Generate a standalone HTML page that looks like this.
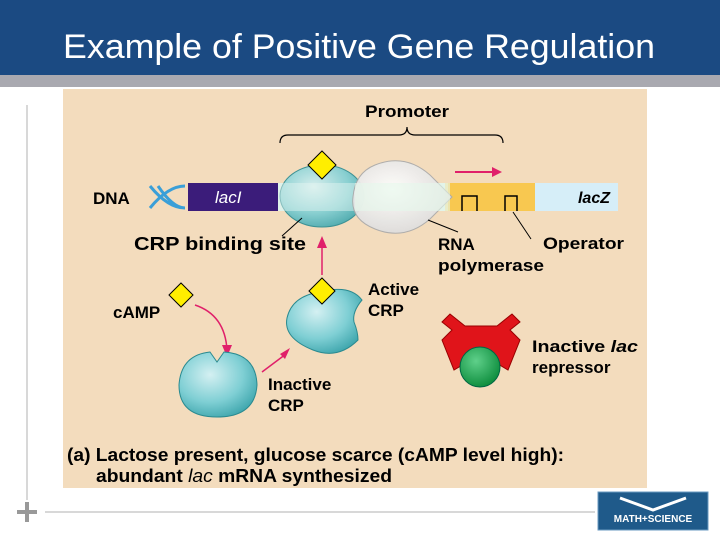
<!DOCTYPE html>
<html><head><meta charset="utf-8"><style>
body{margin:0;width:720px;height:540px;overflow:hidden;background:#fff;font-family:"Liberation Sans",sans-serif}
</style></head><body>
<svg width="720" height="540" xmlns="http://www.w3.org/2000/svg" font-family="Liberation Sans, sans-serif">
<defs>
<radialGradient id="cg" cx="40%" cy="35%" r="70%"><stop offset="0" stop-color="#d4f0f2"/><stop offset="0.6" stop-color="#7fcfd4"/><stop offset="1" stop-color="#3fa6ad"/></radialGradient>
<radialGradient id="gg" cx="40%" cy="35%" r="70%"><stop offset="0" stop-color="#5fd08a"/><stop offset="1" stop-color="#0a8a3a"/></radialGradient>
<radialGradient id="wg" cx="40%" cy="40%" r="70%"><stop offset="0" stop-color="#fff"/><stop offset="1" stop-color="#d8d8d8"/></radialGradient>
</defs>
<rect x="0" y="0" width="720" height="75" fill="#1b4a82"/>
<rect x="0" y="75" width="720" height="12" fill="#a9a9b0"/>
<text x="63" y="58" font-size="34" fill="#fff" textLength="592" lengthAdjust="spacingAndGlyphs">Example of Positive Gene Regulation</text>
<rect x="63" y="89" width="584" height="399" fill="#f3dcbd"/>
<line x1="27" y1="105" x2="27" y2="500" stroke="#ccc" stroke-width="1.5"/>
<line x1="45" y1="512" x2="595" y2="512" stroke="#ccc" stroke-width="1.5"/>
<path d="M17 512h20M27 502v20" stroke="#999" stroke-width="4"/>
<rect x="598" y="492" width="110" height="38" fill="#1f5a8a" stroke="#6a9ac0"/>
<text x="653" y="522" font-size="10" fill="#fff" text-anchor="middle" font-weight="bold">MATH+SCIENCE</text>
<path d="M620 498l33 12 33-12" stroke="#fff" stroke-width="3" fill="none"/>
<path d="M280 143 q0 -8 8 -8 h111 q8 0 8 -8 q0 8 8 8 h80 q8 0 8 8" fill="none" stroke="#000" stroke-width="1.2"/>
<text x="365" y="117" font-size="17" font-weight="bold" textLength="84" lengthAdjust="spacingAndGlyphs">Promoter</text>
<text x="93" y="204" font-size="17" font-weight="bold">DNA</text>
<path d="M150 186 q18 22 35 22 M150 208 q18 -22 35 -22 M158 186 q15 22 27 22" stroke="#3a9fd8" stroke-width="3" fill="none"/>
<rect x="188" y="183" width="90" height="28" fill="#3b1c7a"/>
<text x="215" y="203" font-size="17" fill="#fff" font-style="italic">lacI</text>
<rect x="278" y="183" width="340" height="28" fill="#d8efe6"/>
<rect x="535" y="183" width="83" height="28" fill="#d6eef8"/>
<text x="610" y="203" font-size="16" font-weight="bold" font-style="italic" text-anchor="end">lacZ</text>
<path d="M445 183h90v28h-90z" fill="#f8c850"/>
<path d="M462 211v-15h15v15 M505 211v-15h12v15" stroke="#000" stroke-width="1.5" fill="none"/>
<ellipse cx="322" cy="196" rx="42" ry="31" fill="url(#cg)" stroke="#2a8a90" opacity="0.9"/>
<rect x="278" y="183" width="170" height="28" fill="#e8f4ee" opacity="0.45"/>
<path d="M375 165 q30 -12 55 10 l22 22 l-22 22 q-25 22 -55 10 q-25 -10 -22 -32 q2 -24 22 -32z" fill="url(#wg)" stroke="#aaa" opacity="0.93"/>
<rect x="355" y="183" width="95" height="28" fill="#e6f6ea" opacity="0.6"/>
<path d="M322 151l14 14-14 14-14-14z" fill="#ffee00" stroke="#000"/>
<path d="M455 172h40" stroke="#e0206a" stroke-width="2"/><path d="M492 167l10 5-10 5z" fill="#e0206a"/>
<path d="M302 218l-20 18 M428 220l30 12 M513 212l18 27" stroke="#000" stroke-width="1"/>
<text x="134" y="250" font-size="18" font-weight="bold" textLength="172" lengthAdjust="spacingAndGlyphs">CRP binding site</text>
<text x="438" y="250" font-size="17" font-weight="bold">RNA</text>
<text x="438" y="271" font-size="17" font-weight="bold" textLength="106" lengthAdjust="spacingAndGlyphs">polymerase</text>
<text x="543" y="249" font-size="17" font-weight="bold" textLength="81" lengthAdjust="spacingAndGlyphs">Operator</text>
<path d="M322 275v-30" stroke="#e0206a" stroke-width="1.5"/><path d="M317 248l5-12 5 12z" fill="#e0206a"/>
<path d="M195 305 q30 10 32 45" stroke="#e0206a" stroke-width="1.5" fill="none"/><path d="M222 345l5 12 5-12z" fill="#e0206a"/>
<path d="M262 372l24 -18" stroke="#e0206a" stroke-width="1.5"/><path d="M280 354l10 -6 -5 11z" fill="#e0206a"/>
<path d="M181 283l12 12-12 12-12-12z" fill="#ffee00" stroke="#000"/>
<text x="113" y="318" font-size="17" font-weight="bold">cAMP</text>
<path d="M210 352 l7 10 7-10 q32 2 33 33 q-2 32 -40 32 q-38 0 -38 -32 q2 -30 31 -33z" fill="url(#cg)" stroke="#2a8a90"/>
<text x="268" y="390" font-size="17" font-weight="bold">Inactive</text>
<text x="268" y="411" font-size="17" font-weight="bold">CRP</text>
<path d="M320 292 q30 -8 42 8 q-10 12 -8 22 q4 10 4 18 q-20 20 -45 10 q-30 -12 -26 -32 q5 -22 33 -26z" fill="url(#cg)" stroke="#2a8a90"/>
<path d="M322 278l13 13-13 13-13-13z" fill="#ffee00" stroke="#000"/>
<text x="368" y="295" font-size="17" font-weight="bold">Active</text>
<text x="368" y="316" font-size="17" font-weight="bold">CRP</text>
<path d="M452 330l-10 -8 8 -8 15 12h32l15 -12 8 8-10 8 10 10-12 30-20-12h-14l-20 12-12-30z" fill="#e0141a" stroke="#900"/>
<circle cx="480" cy="367" r="20" fill="url(#gg)" stroke="#064"/>
<text x="532" y="352" font-size="17" font-weight="bold" textLength="106" lengthAdjust="spacingAndGlyphs">Inactive <tspan font-style="italic">lac</tspan></text>
<text x="532" y="373" font-size="17" font-weight="bold">repressor</text>
<text x="67" y="461" font-size="18" font-weight="bold" textLength="497" lengthAdjust="spacingAndGlyphs">(a) Lactose present, glucose scarce (cAMP level high):</text>
<text x="96" y="482" font-size="18" font-weight="bold" textLength="296" lengthAdjust="spacingAndGlyphs">abundant <tspan font-style="italic" font-weight="normal">lac</tspan> mRNA synthesized</text>
</svg>
</body></html>
